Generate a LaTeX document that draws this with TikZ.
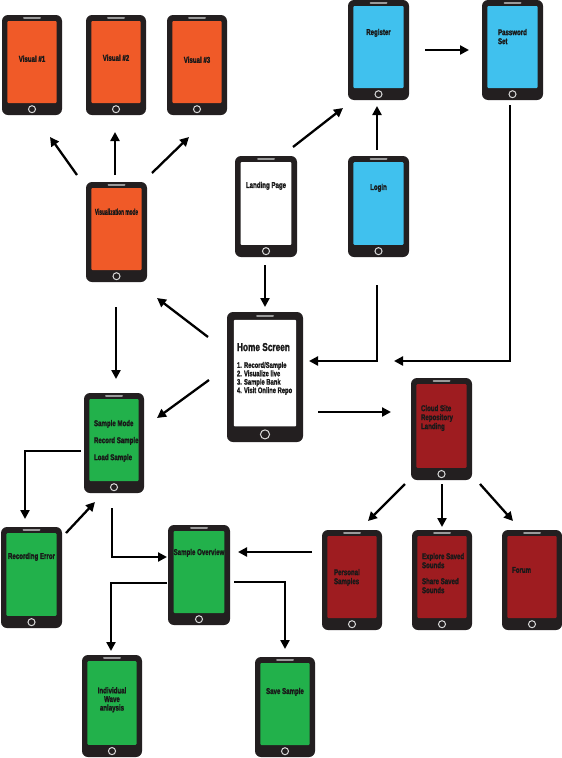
\documentclass[tikz,border=0pt]{standalone}
\usepackage{fontspec}
\newfontfamily\pf[FakeStretch=0.72,FakeBold=1.6]{Liberation Sans}
\usetikzlibrary{arrows.meta}
\definecolor{phoneblk}{HTML}{231F20}
\definecolor{orng}{HTML}{F05A28}
\definecolor{skyb}{HTML}{40C1EE}
\definecolor{grn}{HTML}{22B14B}
\definecolor{dred}{HTML}{9E1C20}
\definecolor{spk}{HTML}{9A9A9A}
\tikzset{
  body/.style={fill=phoneblk, draw=none, rounded corners=6pt, inner sep=0pt},
  screen/.style={draw=none, inner sep=0pt, rounded corners=1pt},
  speaker/.style={draw=spk, line width=2pt, line cap=round},
  btn/.style={circle, draw=white!85!black, line width=1pt, minimum size=7pt, inner sep=0pt},
  lbl/.style={font=\pf\bfseries\fontsize{8.5}{9}\selectfont, text=black!90, inner sep=0pt, align=center},
  lbll/.style={lbl, align=left, anchor=north west},
  arr/.style={line width=2.3pt, -{Triangle[length=9pt,width=9pt]}},
}
\newcommand\phone[6]{%
  \pgfmathsetmacro\tm{0.06*#5}%
  \pgfmathsetmacro\bm{0.12*#5}%
  \pgfmathsetmacro\sm{0.09*#4}%
  \node[body, minimum width=#4pt, minimum height=#5pt] (#1) at (#2,#3) {};
  \node[screen, fill=#6, minimum width=#4pt-2*\sm pt, minimum height=#5pt-\tm pt-\bm pt, anchor=north] (#1s) at ([yshift=-\tm pt]#1.north) {};
  \draw[speaker] ([xshift=-8pt,yshift=-0.5*\tm pt]#1.north) -- ([xshift=8pt,yshift=-0.5*\tm pt]#1.north);
  \node[btn, minimum size=0.07*#5 pt] (#1b) at ([yshift=0.5*\bm pt]#1.south) {};
}
\begin{document}
\begin{tikzpicture}[x=1pt,y=-1pt]
\useasboundingbox (0,0) rectangle (562,758);
\fill[white] (0,0) rectangle (562,758);
% phones
\phone{vone}{32}{65}{60}{100}{orng}
\phone{vtwo}{116}{65}{60}{100}{orng}
\phone{vthree}{197}{65}{60}{100}{orng}
\phone{reg}{378.5}{50}{61}{100}{skyb}
\phone{pwd}{512.5}{50}{61}{100}{skyb}
\phone{vis}{116.5}{232}{61}{100}{orng}
\phone{land}{266}{206.5}{62}{101}{white}
\phone{login}{378.5}{206.5}{61}{101}{skyb}
\phone{home}{265}{377}{76}{130}{white}
\phone{smode}{114}{443}{60}{100}{grn}
\phone{cloud}{441.5}{429}{61}{102}{dred}
\phone{pers}{352}{580}{60}{100}{dred}
\phone{expl}{442}{580}{60}{100}{dred}
\phone{forum}{532}{580}{60}{100}{dred}
\phone{recerr}{31.5}{577.5}{61}{101}{grn}
\phone{over}{199}{575}{62}{100}{grn}
\phone{indiv}{112}{706}{60}{102}{grn}
\phone{save}{285}{707}{60}{100}{grn}
% labels
\node[lbl] (tvone) at ([yshift=-44pt]vone.north) {Visual \#1};
\node[lbl] (tvtwo) at ([yshift=-43pt]vtwo.north) {Visual \#2};
\node[lbl] (tvthree) at ([yshift=-45pt]vthree.north) {Visual \#3};
\node[lbl] (treg) at ([yshift=-33pt]reg.north) {Register};
\node[lbll] (tpwd) at ([xshift=16pt,yshift=-29pt]pwd.north west) {Password\\Set};
\node[lbl] (tvis) at ([yshift=-30pt]vis.north) {\scalebox{0.78}[1]{Visualization mode}};
\node[lbl] (tland) at ([yshift=-30pt]land.north) {Landing Page};
\node[lbl] (tlogin) at ([yshift=-32pt]login.north) {Login};
\node[lbll, font=\pf\bfseries\fontsize{11.5}{11.5}\selectfont] (thome) at ([xshift=10pt,yshift=-31pt]home.north west) {Home Screen};
\node[lbll, font=\pf\bfseries\fontsize{8.1}{8.4}\selectfont] (thlist) at ([xshift=10pt,yshift=-50pt]home.north west) {1. Record/Sample\\2. Visualize live\\3. Sample Bank\\4. Visit Online Repo};
\node[lbll, font=\pf\bfseries\fontsize{8.5}{17}\selectfont] (tsmode) at ([xshift=10pt,yshift=-27pt]smode.north west) {Sample Mode\\Record Sample\\Load Sample};
\node[lbll, font=\pf\bfseries\fontsize{8.5}{9}\selectfont] (tcloud) at ([xshift=10pt,yshift=-27pt]cloud.north west) {Cloud Site\\Repository\\Landing};
\node[lbll] (tpers) at ([xshift=12pt,yshift=-39pt]pers.north west) {Personal\\Samples};
\node[lbll] (texpl) at ([xshift=10pt,yshift=-23pt]expl.north west) {Explore Saved\\Sounds\\[7pt]Share Saved\\Sounds};
\node[lbll] (tforum) at ([xshift=10pt,yshift=-37pt]forum.north west) {Forum};
\node[lbl] (trecerr) at ([yshift=-30pt]recerr.north) {Recording Error};
\node[lbl] (tover) at ([yshift=-28pt]over.north) {Sample Overview};
\node[lbl, font=\pf\bfseries\fontsize{8.5}{8.6}\selectfont] (tindiv) at ([yshift=-45pt]indiv.north) {Individual\\Wave\\anlaysis};
\node[lbl] (tsave) at ([yshift=-35pt]save.north) {Save Sample};
% connector end points
\coordinate (a1) at (77,175);  \coordinate (b1) at (50,137);
\coordinate (a2) at (115,175); \coordinate (b2) at (115,132);
\coordinate (a3) at (152,173); \coordinate (b3) at (189,137);
\coordinate (a4) at (116,307); \coordinate (b4) at (116,379);
\coordinate (a5) at (208,337); \coordinate (b5) at (157,298);
\coordinate (a6) at (209,380); \coordinate (b6) at (157,418);
\coordinate (a7) at (265,265); \coordinate (b7) at (265,307);
\coordinate (a8) at (293,147); \coordinate (b8) at (343,108);
\coordinate (a9) at (377,150); \coordinate (b9) at (377,106);
\coordinate (a10) at (425,50); \coordinate (b10) at (469,50);
\coordinate (a11) at (377,285); \coordinate (b11) at (309,361);
\coordinate (a12) at (510,105); \coordinate (b12) at (394,361);
\coordinate (a13) at (318,412); \coordinate (b13) at (391,412);
\coordinate (a14) at (405,484); \coordinate (b14) at (368,521);
\coordinate (a15) at (442,484); \coordinate (b15) at (442,527);
\coordinate (a16) at (480,484); \coordinate (b16) at (513,521);
\coordinate (a17) at (312,552); \coordinate (b17) at (238,552);
\coordinate (a18) at (81,451);  \coordinate (b18) at (25,519);
\coordinate (a19) at (66,533);  \coordinate (b19) at (95,502);
\coordinate (a20) at (112,508); \coordinate (b20) at (167,557);
\coordinate (a21) at (167,583); \coordinate (b21) at (111,651);
\coordinate (a22) at (234,582); \coordinate (b22) at (285,649);
% connectors
\draw[arr] (a1) -- (b1);
\draw[arr] (a2) -- (b2);
\draw[arr] (a3) -- (b3);
\draw[arr] (a4) -- (b4);
\draw[arr] (a5) -- (b5);
\draw[arr] (a6) -- (b6);
\draw[arr] (a7) -- (b7);
\draw[arr] (a8) -- (b8);
\draw[arr] (a9) -- (b9);
\draw[arr] (a10) -- (b10);
\draw[arr] (a11) |- (b11);
\draw[arr] (a12) |- (b12);
\draw[arr] (a13) -- (b13);
\draw[arr] (a14) -- (b14);
\draw[arr] (a15) -- (b15);
\draw[arr] (a16) -- (b16);
\draw[arr] (a17) -- (b17);
\draw[arr] (a18) -| (b18);
\draw[arr] (a19) -- (b19);
\draw[arr] (a20) |- (b20);
\draw[arr] (a21) -| (b21);
\draw[arr] (a22) -| (b22);
\end{tikzpicture}
\end{document}
